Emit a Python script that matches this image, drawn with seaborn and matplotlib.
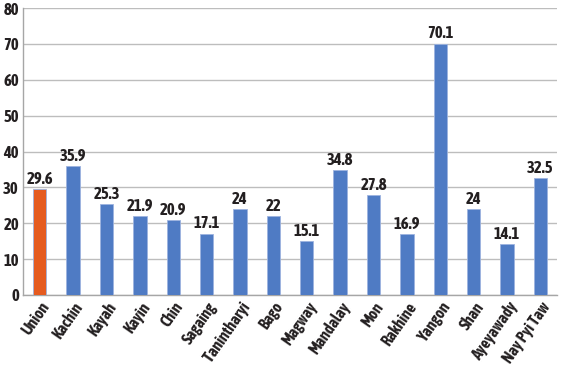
import matplotlib
matplotlib.use("Agg")
import matplotlib.pyplot as plt
import seaborn as sns
import pandas as pd

regions = ["Union", "Kachin", "Kayah", "Kayin", "Chin", "Sagaing", "Tanintharyi", "Bago",
           "Magway", "Mandalay", "Mon", "Rakhine", "Yangon", "Shan", "Ayeyawady", "Nay Pyi Taw"]
values = [29.6, 35.9, 25.3, 21.9, 20.9, 17.1, 24, 22, 15.1, 34.8, 27.8, 16.9, 70.1, 24, 14.1, 32.5]
labels = ["29.6", "35.9", "25.3", "21.9", "20.9", "17.1", "24", "22", "15.1", "34.8", "27.8",
          "16.9", "70.1", "24", "14.1", "32.5"]
y_ticks = [0, 10, 20, 30, 40, 50, 60, 70, 80]

sns.set_style("white")
plt.rcParams['font.family'] = ['Asap Condensed', 'DejaVu Sans']

df = pd.DataFrame({"region": regions, "value": values})
palette = ["#E55B1F"] + ["#4F7BC4"] * (len(regions) - 1)
dark = "#231F20"

fig = plt.figure(figsize=(5.75, 3.7), dpi=100)
ax = fig.add_axes([0.04, 0.203, 0.929, 0.775])

sns.barplot(data=df, x="region", y="value", hue="region", palette=palette, saturation=1,
            legend=False, width=0.4, edgecolor="#9DB3DF", linewidth=0.6, ax=ax, zorder=3)

for i, (v, t) in enumerate(zip(values, labels)):
    ax.text(i, v + 0.6, t, ha="center", va="bottom", fontsize=12, fontweight="bold", color=dark)

ax.set_ylim(0, 80)
ax.set_xlim(-0.5, len(regions) - 0.5)
ax.set_yticks(y_ticks)
ax.set_yticklabels([str(t) for t in y_ticks], fontsize=12, fontweight="bold", color=dark)
ax.set_xticks(range(len(regions)))
ax.set_xticklabels(regions, rotation=55, ha="right", rotation_mode="anchor",
                   fontsize=11.5, fontweight="bold", color=dark)
ax.tick_params(axis="both", length=0, pad=3)
ax.yaxis.grid(True, color="#BDBDBD", linewidth=1)
ax.set_axisbelow(True)
ax.set_xlabel("")
ax.set_ylabel("")
for s in ["top", "right"]:
    ax.spines[s].set_visible(False)
for s in ["left", "bottom"]:
    ax.spines[s].set_color("#A6A6A6")
    ax.spines[s].set_linewidth(1)

fig.savefig("out.png", dpi=100)
